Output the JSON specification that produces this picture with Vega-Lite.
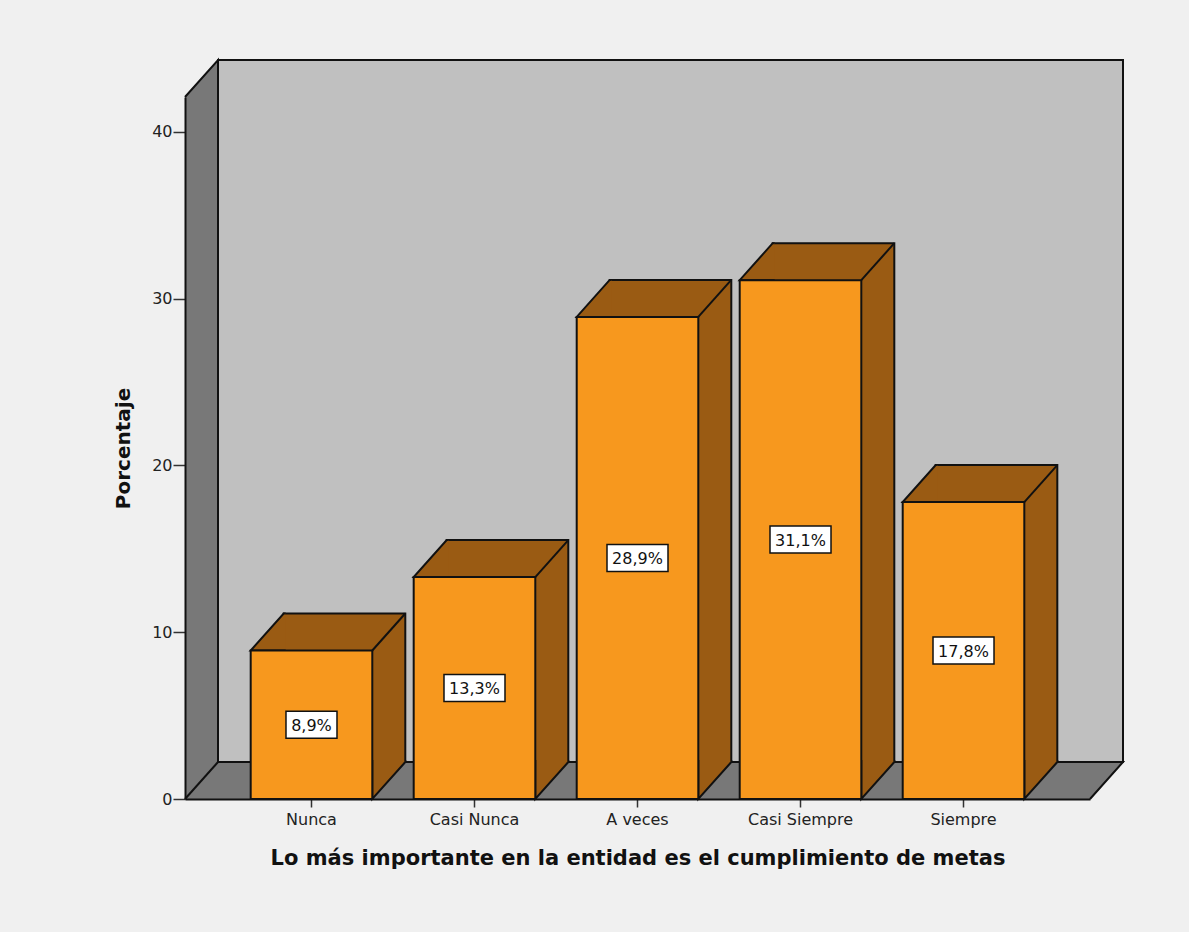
{
  "$schema": "https://vega.github.io/schema/vega-lite/v6.json",
  "width": 905,
  "height": 702,
  "autosize": {"type": "none"},
  "padding": {"left": 185, "top": 97, "right": 99, "bottom": 133},
  "background": "#f0f0f0",
  "datasets": {
    "respuestas": [
      {"categoria": "Nunca", "porcentaje": 8.9},
      {"categoria": "Casi Nunca", "porcentaje": 13.3},
      {"categoria": "A veces", "porcentaje": 28.9},
      {"categoria": "Casi Siempre", "porcentaje": 31.1},
      {"categoria": "Siempre", "porcentaje": 17.8}
    ],
    "marco": [{}]
  },
  "data": {"name": "respuestas"},
  "layer": [
    {
      "layer": [
        {
          "data": {"name": "marco"},
          "mark": {"type": "rect", "fill": "#c0c0c0", "stroke": "#111111", "strokeWidth": 2, "xOffset": 33, "x2Offset": 33, "yOffset": -37, "y2Offset": -37},
          "encoding": {
            "x": {"value": 0},
            "x2": {"value": "width"},
            "y": {"datum": 0, "type": "quantitative", "title": "Porcentaje", "scale": {"domain": [0, 42.08], "nice": false, "zero": true}},
            "y2": {"datum": 42.08}
          }
        },
        {
          "data": {"name": "marco"},
          "mark": {"type": "point", "shape": "M33,0 L33,-37 L0,0", "size": 4, "filled": true, "fill": "#787878", "stroke": "#111111", "strokeWidth": 2, "opacity": 1},
          "encoding": {
            "x": {"value": 0},
            "y": {"datum": 42.08, "type": "quantitative", "title": "Porcentaje"}
          }
        },
        {
          "data": {"name": "marco"},
          "mark": {"type": "point", "shape": "M0,0 L33,-37 L0,-37", "size": 4, "filled": true, "fill": "#787878", "stroke": "#111111", "strokeWidth": 2, "opacity": 1},
          "encoding": {
            "x": {"value": "width"},
            "y": {"datum": 0, "type": "quantitative", "title": "Porcentaje"}
          }
        },
        {
          "data": {"name": "marco"},
          "mark": {"type": "point", "shape": "M0,0 L33,-37", "size": 4, "filled": false, "stroke": "#111111", "strokeWidth": 2, "opacity": 1},
          "encoding": {
            "x": {"value": 0},
            "y": {"datum": 0, "type": "quantitative", "title": "Porcentaje"}
          }
        },
        {
          "mark": {"type": "bar", "fill": "#9a5b13", "stroke": "#111111", "strokeWidth": 2, "xOffset": 33, "x2Offset": 33, "yOffset": -37, "y2Offset": -37},
          "encoding": {
            "x": {"field": "categoria", "type": "nominal", "sort": null, "title": "Lo más importante en la entidad es el cumplimiento de metas", "scale": {"paddingInner": 0.254, "paddingOuter": 0.403}},
            "y": {"field": "porcentaje", "type": "quantitative", "title": "Porcentaje"}
          }
        },
        {
          "mark": {"type": "point", "shape": "M35,0 L0,0 L33,-37 L35,-37", "size": 4, "filled": true, "fill": "#9a5b13", "stroke": "#111111", "strokeWidth": 2, "opacity": 1},
          "encoding": {
            "x": {"field": "categoria", "type": "nominal", "sort": null, "bandPosition": 0, "title": "Lo más importante en la entidad es el cumplimiento de metas"},
            "y": {"field": "porcentaje", "type": "quantitative", "title": "Porcentaje"}
          }
        },
        {
          "mark": {"type": "point", "shape": "M0,-39 L0,0 L33,-37 L33,-39", "size": 4, "filled": true, "fill": "#9a5b13", "stroke": "#111111", "strokeWidth": 2, "opacity": 1},
          "encoding": {
            "x": {"field": "categoria", "type": "nominal", "sort": null, "bandPosition": 1, "title": "Lo más importante en la entidad es el cumplimiento de metas"},
            "y": {"datum": 0, "type": "quantitative", "title": "Porcentaje"}
          }
        },
        {
          "mark": {"type": "bar", "fill": "#f7981e", "stroke": "#111111", "strokeWidth": 2},
          "encoding": {
            "x": {"field": "categoria", "type": "nominal", "sort": null, "title": "Lo más importante en la entidad es el cumplimiento de metas"},
            "y": {"field": "porcentaje", "type": "quantitative", "title": "Porcentaje", "axis": {"values": [0, 10, 20, 30, 40]}}
          }
        },
        {
          "mark": {"type": "point", "shape": "M0,0 L33,-37", "size": 4, "filled": false, "stroke": "#111111", "strokeWidth": 2, "opacity": 1},
          "encoding": {
            "x": {"field": "categoria", "type": "nominal", "sort": null, "bandPosition": 1, "title": "Lo más importante en la entidad es el cumplimiento de metas"},
            "y": {"field": "porcentaje", "type": "quantitative", "title": "Porcentaje"}
          }
        }
      ]
    },
    {
      "layer": [
        {
          "mark": {"type": "bar", "fill": "#ffffff", "stroke": "#111111", "strokeWidth": 1.5, "yOffset": -13.5, "y2Offset": 13.5},
          "encoding": {
            "x": {"field": "categoria", "type": "nominal", "sort": null, "title": "Lo más importante en la entidad es el cumplimiento de metas"},
            "y": {"field": "porcentaje", "type": "quantitative", "axis": null, "scale": {"domain": [0, 84.16], "nice": false}},
            "y2": {"field": "porcentaje"},
            "size": {"field": "porcentaje", "type": "quantitative", "legend": null, "scale": {"type": "threshold", "domain": [10], "range": [51, 61]}}
          }
        },
        {
          "mark": {"type": "text", "font": "DejaVu Sans", "fontSize": 16, "color": "#111111", "baseline": "middle", "align": "center", "dy": 1},
          "encoding": {
            "x": {"field": "categoria", "type": "nominal", "sort": null, "title": "Lo más importante en la entidad es el cumplimiento de metas"},
            "y": {"field": "porcentaje", "type": "quantitative", "axis": null, "scale": {"domain": [0, 84.16], "nice": false}},
            "text": {"field": "porcentaje", "type": "quantitative", "format": "$.1f"}
          }
        }
      ]
    }
  ],
  "resolve": {"scale": {"y": "independent"}},
  "config": {
    "locale": {"number": {"decimal": ",", "thousands": ".", "grouping": [3], "currency": ["", "%"]}},
    "view": {"fill": "#787878", "stroke": null},
    "font": "DejaVu Sans",
    "axis": {
      "grid": false,
      "zindex": 1,
      "domainColor": "#111111",
      "domainWidth": 2,
      "tickColor": "#333333",
      "tickWidth": 1.5,
      "labelFont": "DejaVu Sans",
      "labelFontSize": 16,
      "labelColor": "#222222",
      "titleFont": "DejaVu Sans",
      "titleFontWeight": "bold",
      "titleColor": "#111111"
    },
    "axisX": {"tickSize": 8, "labelPadding": 4, "labelAngle": 0, "titleFontSize": 21, "titlePadding": 20},
    "axisY": {"tickSize": 12, "labelPadding": 1, "titleFontSize": 20, "titlePadding": 18}
  }
}
